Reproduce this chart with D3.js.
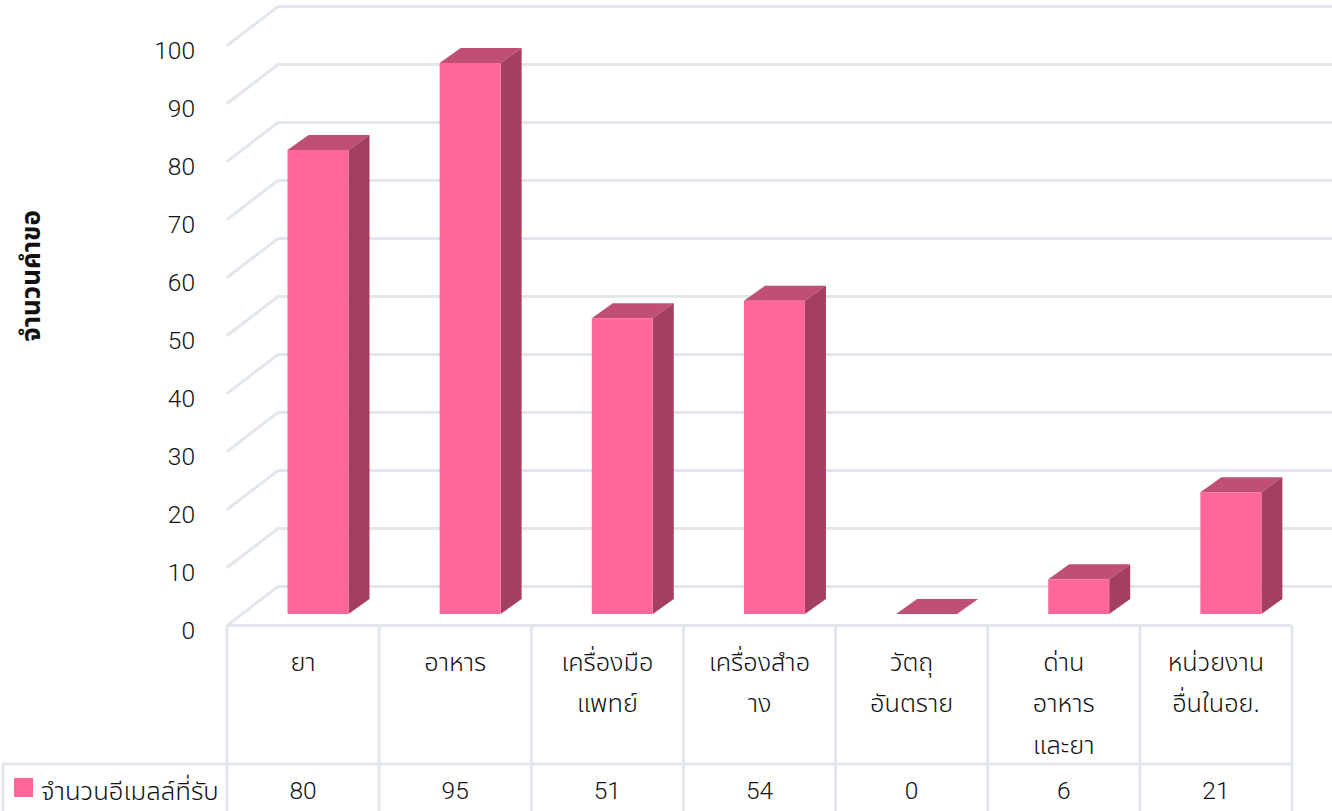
<!DOCTYPE html>
<html>
<head>
<meta charset="utf-8">
<script src="https://cdn.jsdelivr.net/npm/d3@7"></script>
<style>
  html, body { margin: 0; padding: 0; background: #fff; overflow: hidden; }
  text { font-family: "Noto Sans", "Noto Sans Thai", "Open Sans", sans-serif; fill: #111; font-weight: 300; }
  text.num { font-family: Roboto, "Noto Sans", sans-serif; }
</style>
</head>
<body>
<svg id="chart"></svg>
<script>
const categories = ["ยา", "อาหาร", "เครื่องมือแพทย์", "เครื่องสำอาง", "วัตถุอันตราย", "ด่านอาหารและยา", "หน่วยงานอื่นในอย."];
const categoryLines = [["ยา"], ["อาหาร"], ["เครื่องมือ", "แพทย์"], ["เครื่องสำอ", "าง"], ["วัตถุ", "อันตราย"], ["ด่าน", "อาหาร", "และยา"], ["หน่วยงาน", "อื่นในอย."]];
const values = [80, 95, 51, 54, 0, 6, 21];
const yTicks = [0, 10, 20, 30, 40, 50, 60, 70, 80, 90, 100];
const seriesName = "จำนวนอีเมลล์ที่รับ";
const yTitle = "จำนวนคำขอ";

const width = 1332, height = 811;
const gridColor = "#e2e6ed";

const svg = d3.select("#chart").attr("width", width).attr("height", height);

// front plane of the axis
const x = d3.scaleBand().domain(categories).range([227, 1292]);
const y = d3.scaleLinear().domain([0, 100]).range([625.5, 45.5]);

// depth of the back wall and of the bars
const wall = { dx: 51, dy: -39 };
const bar = { dx: 21, dy: -15, w: 61, shift: 60.5, floor: -11.5 };

// back wall grid + left wall
const grid = svg.append("g").attr("fill", "none").attr("stroke", gridColor).attr("stroke-width", 3);
yTicks.forEach(t => {
  grid.append("path")
    .attr("d", d3.line()([
      [x.range()[0], y(t)],
      [x.range()[0] + wall.dx, y(t) + wall.dy],
      [width, y(t) + wall.dy]
    ]));
});

// y axis labels
const yAxis = svg.append("g")
  .attr("transform", `translate(${x.range()[0] - 32},5)`)
  .call(d3.axisLeft(y).tickValues(yTicks).tickSize(0).tickPadding(0));
yAxis.select(".domain").remove();
yAxis.selectAll("text").attr("class", "num").style("font-size", "24.5px").attr("fill", "#111");

svg.append("text")
  .attr("transform", "translate(33,276) rotate(-90)")
  .attr("text-anchor", "middle")
  .attr("dominant-baseline", "middle")
  .style("font-size", "26px")
  .style("font-weight", "bold")
  .text(yTitle);

// bars
const bars = svg.append("g").selectAll("g")
  .data(categories.map((c, i) => ({ c, v: values[i] })))
  .join("g")
  .attr("transform", d => `translate(${x(d.c) + bar.shift},${bar.floor})`);

bars.append("path").attr("fill", "#c04f74")
  .attr("d", d => d3.line()([
    [0, y(d.v)], [bar.dx, y(d.v) + bar.dy], [bar.w + bar.dx, y(d.v) + bar.dy], [bar.w, y(d.v)]
  ]) + "Z");
bars.append("path").attr("fill", "#a33f60")
  .attr("d", d => d3.line()([
    [bar.w, y(d.v)], [bar.w + bar.dx, y(d.v) + bar.dy], [bar.w + bar.dx, y(0) + bar.dy], [bar.w, y(0)]
  ]) + "Z");
bars.append("rect").attr("fill", "#ff6699")
  .attr("x", 0)
  .attr("y", d => y(d.v))
  .attr("width", bar.w)
  .attr("height", d => y(0) - y(d.v));

// data table below the plot
const tableTop = y(0), rowLine = 764;
const table = svg.append("g").attr("stroke", gridColor).attr("stroke-width", 3).attr("fill", "none");
table.append("line").attr("x1", x.range()[0]).attr("x2", x.range()[1]).attr("y1", tableTop).attr("y2", tableTop);
table.append("line").attr("x1", 3).attr("x2", x.range()[1]).attr("y1", rowLine).attr("y2", rowLine);
table.append("line").attr("x1", 3).attr("x2", 3).attr("y1", rowLine).attr("y2", height);
categories.forEach(c => {
  table.append("line").attr("x1", x(c)).attr("x2", x(c)).attr("y1", tableTop).attr("y2", height);
});
table.append("line").attr("x1", x.range()[1]).attr("x2", x.range()[1]).attr("y1", tableTop).attr("y2", height);

// category names
const lineY = d3.scalePoint().domain([0, 1, 2]).range([664, 747]);
categories.forEach((c, i) => {
  categoryLines[i].forEach((line, j) => {
    svg.append("text")
      .attr("x", x(c) + x.bandwidth() / 2)
      .attr("y", lineY(j))
      .attr("text-anchor", "middle")
      .attr("dominant-baseline", "middle")
      .style("font-size", "25.3px")
      .text(line);
  });
  svg.append("text")
    .attr("class", "num")
    .attr("x", x(c) + x.bandwidth() / 2)
    .attr("y", 793)
    .attr("text-anchor", "middle")
    .attr("dominant-baseline", "middle")
    .style("font-size", "24.5px")
    .text(values[i]);
});

// legend key
svg.append("rect").attr("x", 14).attr("y", 778).attr("width", 19).attr("height", 19).attr("fill", "#ff6699");
svg.append("text")
  .attr("x", 41).attr("y", 793)
  .attr("dominant-baseline", "middle")
  .style("font-size", "25.7px")
  .text(seriesName);
</script>
</body>
</html>
